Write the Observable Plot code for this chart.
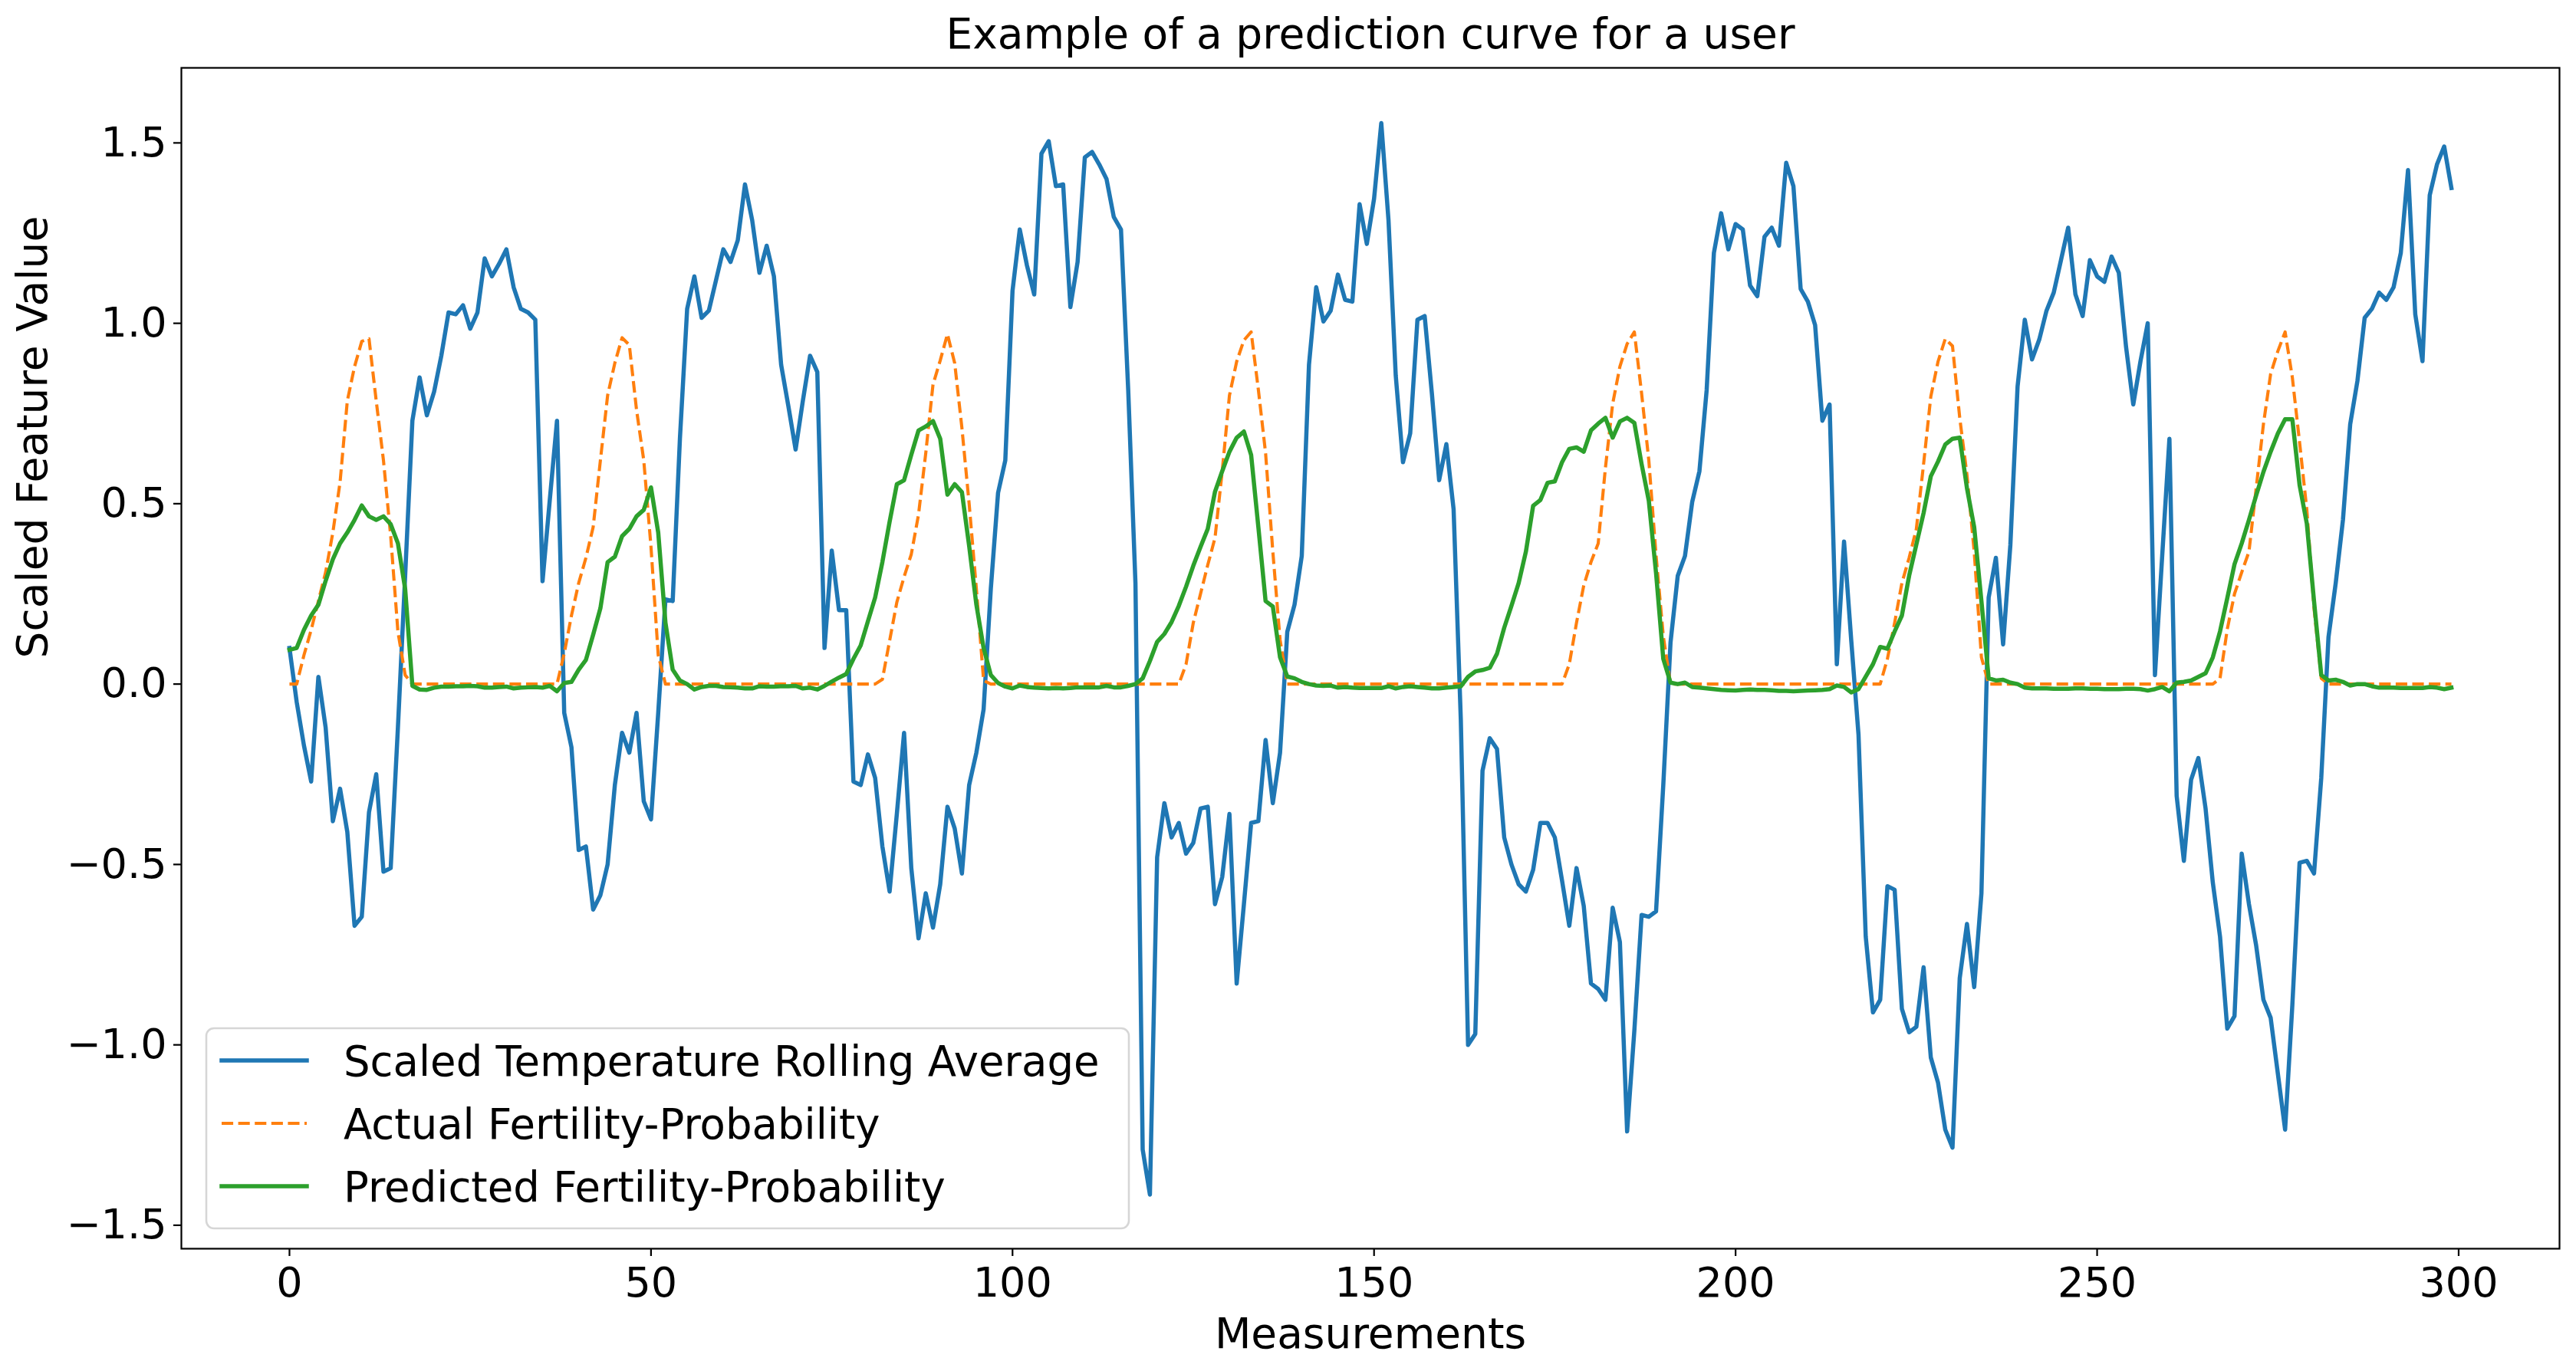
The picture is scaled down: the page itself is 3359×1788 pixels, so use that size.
<!DOCTYPE html>
<html>
<head>
<meta charset="utf-8">
<script src="https://cdn.jsdelivr.net/npm/d3@7"></script>
<script src="https://cdn.jsdelivr.net/npm/@observablehq/plot@0.6"></script>
<style>
  html, body { margin: 0; padding: 0; background: white; overflow: hidden; }
  #wrap { position: relative; width: 3359px; height: 1788px; }
  #legend { position: absolute; left: 0; top: 0; }
</style>
</head>
<body>
<div id="wrap"></div>
<script>
const titleText = "Example of a prediction curve for a user";
const xLabelText = "Measurements";
const yLabelText = "Scaled Feature Value";
const seriesNames = ["Scaled Temperature Rolling Average", "Actual Fertility-Probability", "Predicted Fertility-Probability"];
const xTicks = [0, 50, 100, 150, 200, 250, 300];
const yTicks = [-1.5, -1.0, -0.5, 0.0, 0.5, 1.0, 1.5];

const temperature = [
  0.10, -0.05, -0.17, -0.27, 0.02, -0.12, -0.38, -0.29, -0.41, -0.67,
  -0.645, -0.355, -0.25, -0.52, -0.51, -0.12, 0.30, 0.73, 0.85, 0.745,
  0.81, 0.91, 1.03, 1.025, 1.05, 0.985, 1.03, 1.18, 1.13, 1.165,
  1.205, 1.10, 1.04, 1.03, 1.01, 0.285, 0.51, 0.73, -0.08, -0.175,
  -0.46, -0.45, -0.625, -0.585, -0.50, -0.28, -0.135, -0.19, -0.08, -0.325,
  -0.375, -0.08, 0.235, 0.23, 0.68, 1.04, 1.13, 1.015, 1.035, 1.12,
  1.205, 1.17, 1.23, 1.385, 1.285, 1.14, 1.215, 1.13, 0.885, 0.77,
  0.65, 0.785, 0.91, 0.865, 0.10, 0.37, 0.205, 0.205, -0.27, -0.28,
  -0.195, -0.26, -0.45, -0.575, -0.36, -0.135, -0.51, -0.705, -0.58, -0.675,
  -0.555, -0.34, -0.40, -0.525, -0.28, -0.19, -0.07, 0.265, 0.53, 0.62,
  1.09, 1.26, 1.16, 1.08, 1.47, 1.505, 1.38, 1.385, 1.045, 1.17,
  1.46, 1.475, 1.44, 1.40, 1.295, 1.26, 0.815, 0.28, -1.29, -1.415,
  -0.48, -0.33, -0.425, -0.385, -0.47, -0.44, -0.345, -0.34, -0.61, -0.535,
  -0.36, -0.83, -0.61, -0.385, -0.38, -0.155, -0.33, -0.19, 0.145, 0.22,
  0.355, 0.885, 1.10, 1.005, 1.035, 1.135, 1.065, 1.06, 1.33, 1.22,
  1.345, 1.555, 1.285, 0.855, 0.615, 0.695, 1.01, 1.02, 0.805, 0.565,
  0.665, 0.485, -0.10, -1.0, -0.97, -0.24, -0.15, -0.18, -0.425, -0.50,
  -0.555, -0.575, -0.515, -0.385, -0.385, -0.425, -0.545, -0.67, -0.51, -0.615,
  -0.83, -0.845, -0.875, -0.62, -0.715, -1.24, -0.96, -0.64, -0.645, -0.63,
  -0.28, 0.115, 0.30, 0.355, 0.505, 0.59, 0.815, 1.195, 1.305, 1.205,
  1.275, 1.26, 1.105, 1.075, 1.24, 1.265, 1.215, 1.445, 1.38, 1.095,
  1.06, 0.995, 0.73, 0.775, 0.055, 0.395, 0.12, -0.14, -0.70, -0.91,
  -0.875, -0.56, -0.57, -0.90, -0.965, -0.95, -0.785, -1.035, -1.105, -1.235,
  -1.285, -0.815, -0.665, -0.84, -0.58, 0.24, 0.35, 0.11, 0.385, 0.825,
  1.01, 0.90, 0.955, 1.035, 1.085, 1.175, 1.265, 1.08, 1.02, 1.175,
  1.13, 1.115, 1.185, 1.14, 0.935, 0.775, 0.895, 1.0, 0.025, 0.355,
  0.68, -0.31, -0.49, -0.265, -0.205, -0.345, -0.55, -0.70, -0.955, -0.92,
  -0.47, -0.61, -0.725, -0.875, -0.925, -1.08, -1.235, -0.89, -0.495, -0.49,
  -0.525, -0.26, 0.13, 0.28, 0.455, 0.72, 0.84, 1.015, 1.04, 1.085,
  1.065, 1.10, 1.195, 1.425, 1.025, 0.895, 1.355, 1.44, 1.49, 1.375
];

const actual = [
  0, 0, 0.08, 0.15, 0.23, 0.31, 0.42, 0.56, 0.785, 0.88,
  0.95, 0.957, 0.785, 0.62, 0.41, 0.145, 0.025, 0, 0, 0,
  0, 0, 0, 0, 0, 0, 0, 0, 0, 0,
  0, 0, 0, 0, 0, 0, 0, 0, 0.085, 0.19,
  0.28, 0.35, 0.435, 0.62, 0.80, 0.89, 0.96, 0.94, 0.76, 0.62,
  0.38, 0.08, 0, 0, 0, 0, 0, 0, 0, 0,
  0, 0, 0, 0, 0, 0, 0, 0, 0, 0,
  0, 0, 0, 0, 0, 0, 0, 0, 0, 0,
  0, 0, 0.013, 0.12, 0.227, 0.297, 0.36, 0.47, 0.64, 0.83,
  0.897, 0.97, 0.89, 0.71, 0.50, 0.264, 0.01, 0, 0, 0,
  0, 0, 0, 0, 0, 0, 0, 0, 0, 0,
  0, 0, 0, 0, 0, 0, 0, 0, 0, 0,
  0, 0, 0, 0, 0.055, 0.17, 0.25, 0.33, 0.405, 0.59,
  0.80, 0.894, 0.953, 0.976, 0.816, 0.64, 0.367, 0.123, 0, 0,
  0, 0, 0, 0, 0, 0, 0, 0, 0, 0,
  0, 0, 0, 0, 0, 0, 0, 0, 0, 0,
  0, 0, 0, 0, 0, 0, 0, 0, 0, 0,
  0, 0, 0, 0, 0, 0, 0, 0.055, 0.17, 0.273,
  0.338, 0.39, 0.60, 0.777, 0.88, 0.943, 0.976, 0.806, 0.62, 0.357,
  0.133, 0, 0, 0, 0, 0, 0, 0, 0, 0,
  0, 0, 0, 0, 0, 0, 0, 0, 0, 0,
  0, 0, 0, 0, 0, 0, 0, 0, 0, 0,
  0, 0.07, 0.17, 0.28, 0.35, 0.43, 0.61, 0.797, 0.894, 0.957,
  0.937, 0.738, 0.58, 0.367, 0.074, 0, 0, 0, 0, 0,
  0, 0, 0, 0, 0, 0, 0, 0, 0, 0,
  0, 0, 0, 0, 0, 0, 0, 0, 0, 0,
  0, 0, 0, 0, 0, 0, 0, 0.016, 0.152, 0.25,
  0.31, 0.367, 0.543, 0.72, 0.86, 0.923, 0.976, 0.85, 0.67, 0.484,
  0.21, 0.016, 0, 0, 0, 0, 0, 0, 0, 0,
  0, 0, 0, 0, 0, 0, 0, 0, 0, 0
];

const predicted = [
  0.095, 0.10, 0.15, 0.19, 0.22, 0.286, 0.346, 0.39, 0.42, 0.455,
  0.495, 0.465, 0.455, 0.465, 0.443, 0.39, 0.264, -0.005, -0.015, -0.016,
  -0.01, -0.007, -0.007, -0.006, -0.006, -0.005, -0.006, -0.01, -0.01, -0.008,
  -0.007, -0.012, -0.01, -0.009, -0.008, -0.01, -0.005, -0.02, 0.003, 0.006,
  0.04, 0.067, 0.137, 0.21, 0.338, 0.353, 0.41, 0.43, 0.465, 0.483,
  0.545, 0.42, 0.17, 0.04, 0.01, 0.0, -0.015, -0.008, -0.005, -0.005,
  -0.008, -0.009, -0.01, -0.012, -0.012, -0.006, -0.007, -0.007, -0.006, -0.006,
  -0.005, -0.012, -0.01, -0.015, -0.005, 0.007, 0.018, 0.028, 0.07, 0.107,
  0.174, 0.24, 0.338, 0.45, 0.554, 0.565, 0.636, 0.703, 0.714, 0.729,
  0.68, 0.525, 0.554, 0.532, 0.383, 0.22, 0.10, 0.025, 0.003, -0.007,
  -0.012, -0.004, -0.008, -0.01, -0.011, -0.012, -0.011, -0.012, -0.011, -0.009,
  -0.009, -0.009, -0.009, -0.005, -0.009, -0.009, -0.005, 0.0, 0.016, 0.064,
  0.117, 0.139, 0.172, 0.217, 0.27, 0.328, 0.38, 0.43, 0.533, 0.59,
  0.644, 0.683, 0.70, 0.635, 0.435, 0.23, 0.215, 0.074, 0.021, 0.016,
  0.006, 0.0, -0.004, -0.005, -0.004, -0.01, -0.008, -0.01, -0.011, -0.011,
  -0.011, -0.011, -0.006, -0.012, -0.008, -0.006, -0.008, -0.01, -0.012, -0.012,
  -0.01, -0.008, -0.006, 0.02, 0.035, 0.039, 0.045, 0.084, 0.156, 0.217,
  0.28, 0.367, 0.494, 0.51, 0.558, 0.562, 0.615, 0.652, 0.656, 0.644,
  0.703, 0.722, 0.738, 0.683, 0.728, 0.738, 0.724, 0.61, 0.508, 0.308,
  0.07, 0.004, 0.0, 0.004, -0.008, -0.01, -0.012, -0.014, -0.016, -0.017,
  -0.018, -0.016, -0.015, -0.016, -0.016, -0.017, -0.019, -0.019, -0.02, -0.019,
  -0.018, -0.017, -0.016, -0.014, -0.004, -0.008, -0.023, -0.014, 0.021, 0.055,
  0.103, 0.098, 0.146, 0.19, 0.30, 0.387, 0.474, 0.576, 0.617, 0.664,
  0.68, 0.683, 0.543, 0.435, 0.23, 0.016, 0.01, 0.012, 0.004, 0.0,
  -0.01, -0.012, -0.012, -0.012, -0.013, -0.013, -0.013, -0.012, -0.012, -0.013,
  -0.013, -0.014, -0.014, -0.014, -0.013, -0.013, -0.014, -0.018, -0.014, -0.008,
  -0.02, 0.004, 0.006, 0.01, 0.02, 0.03, 0.074, 0.146, 0.238, 0.332,
  0.39, 0.455, 0.523, 0.588, 0.644, 0.695, 0.734, 0.734, 0.552, 0.445,
  0.23, 0.025, 0.01, 0.012, 0.006, -0.004, 0.0, 0.0, -0.006, -0.01,
  -0.01, -0.01, -0.011, -0.011, -0.011, -0.011, -0.008, -0.01, -0.014, -0.01
];

const colors = ["#1f77b4", "#ff7f0e", "#2ca02c"];
const widths = [5.5, 4.1, 5.5];
const dash = "15.1,6.5";
const font = "DejaVu Sans, Liberation Sans, sans-serif";

const rows = (arr) => arr.map((v, i) => ({x: i, y: v}));

const chart = Plot.plot({
  width: 3359,
  height: 1788,
  marginLeft: 236,
  marginRight: 22,
  marginTop: 88,
  marginBottom: 160,
  style: {fontFamily: font, fontSize: "54px", background: "white", color: "black"},
  x: {domain: [-14.95, 313.95], nice: false},
  y: {domain: [-1.565, 1.708], nice: false},
  marks: [
    Plot.line(rows(temperature), {x: "x", y: "y", stroke: colors[0], strokeWidth: widths[0], strokeLinejoin: "round", strokeLinecap: "square"}),
    Plot.line(rows(actual), {x: "x", y: "y", stroke: colors[1], strokeWidth: widths[1], strokeDasharray: dash, strokeLinecap: "butt", strokeLinejoin: "round"}),
    Plot.line(rows(predicted), {x: "x", y: "y", stroke: colors[2], strokeWidth: widths[2], strokeLinejoin: "round", strokeLinecap: "square"}),
    Plot.frame({stroke: "black", strokeWidth: 2.2}),
    Plot.axisX({ticks: xTicks, tickSize: 10, tickPadding: 14, strokeWidth: 2.2, fontSize: 54, label: null, tickFormat: d3.format("d")}),
    Plot.axisY({ticks: yTicks, tickSize: 10, tickPadding: 9, strokeWidth: 2.2, fontSize: 54, label: null, tickFormat: d3.format(".1f")}),
    Plot.text([titleText], {text: d => d, frameAnchor: "top", lineAnchor: "middle", dy: -43, fontSize: 55, fill: "black"}),
    Plot.text([xLabelText], {text: d => d, frameAnchor: "bottom", lineAnchor: "middle", dy: 112, fontSize: 55, fill: "black"}),
    Plot.text([yLabelText], {text: d => d, frameAnchor: "left", lineAnchor: "middle", dx: -193, rotate: -90, fontSize: 55, fill: "black"})
  ]
});

const wrap = document.getElementById("wrap");
wrap.appendChild(chart);

// Legend overlay in the lower-left corner of the axes, like matplotlib's "best"
const lg = d3.select(wrap).append("svg")
  .attr("id", "legend")
  .attr("width", 3359).attr("height", 1788)
  .style("pointer-events", "none");
lg.append("rect")
  .attr("x", 269).attr("y", 1341).attr("width", 1203).attr("height", 261)
  .attr("rx", 10).attr("ry", 10)
  .attr("fill", "white").attr("fill-opacity", 0.8)
  .attr("stroke", "#d6d6d6").attr("stroke-width", 2.6);
const rowY = [1383, 1465, 1547];
seriesNames.forEach((name, k) => {
  const ln = lg.append("line")
    .attr("x1", 289).attr("x2", 400)
    .attr("y1", rowY[k]).attr("y2", rowY[k])
    .attr("stroke", colors[k]).attr("stroke-width", widths[k]);
  if (k === 1) ln.attr("stroke-dasharray", dash).attr("stroke-linecap", "butt");
  else ln.attr("stroke-linecap", "square");
  lg.append("text")
    .attr("x", 448).attr("y", rowY[k] + 20)
    .attr("font-family", font).attr("font-size", 54.5)
    .attr("fill", "black")
    .text(name);
});
</script>
</body>
</html>
